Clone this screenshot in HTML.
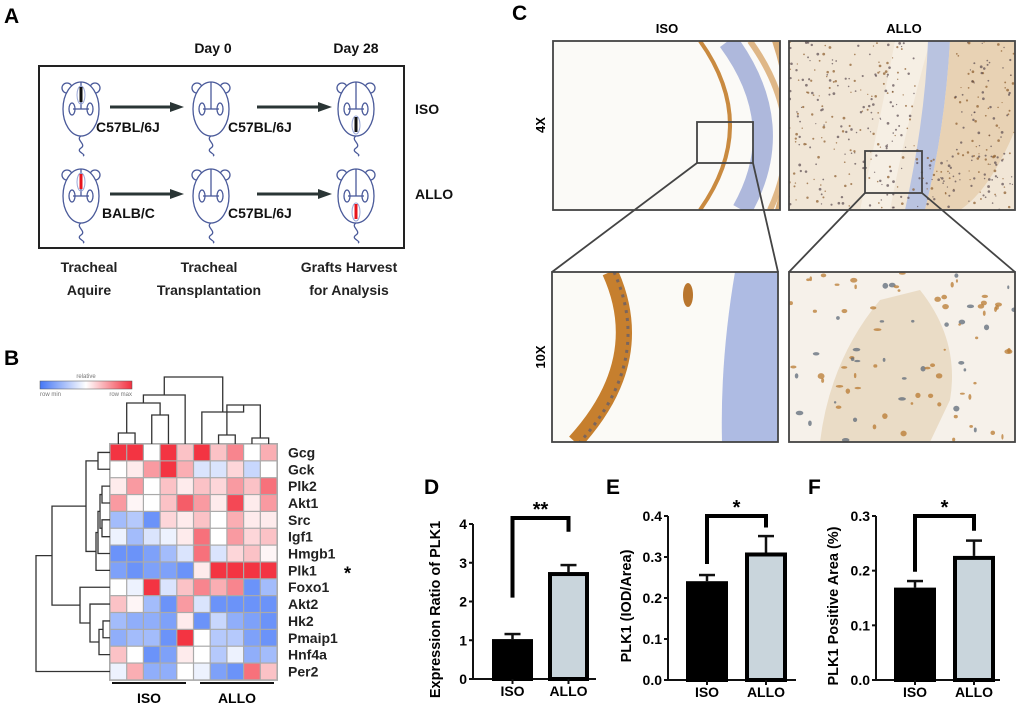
<!DOCTYPE html>
<html><head><meta charset="utf-8"><style>
html,body{margin:0;padding:0;background:#fff;}
svg{display:block;font-family:"Liberation Sans",Arial,sans-serif;}
.b{font-weight:bold;}
</style></head><body>
<svg id="fig" width="1020" height="708" viewBox="0 0 1020 708" xmlns="http://www.w3.org/2000/svg">
<defs>
<linearGradient id="leg" x1="0" x2="1" y1="0" y2="0"><stop offset="0" stop-color="#4677f5"/><stop offset="0.5" stop-color="#ffffff"/><stop offset="1" stop-color="#f2303f"/></linearGradient>
<clipPath id="c1"><rect x="553" y="41" width="227" height="169"/></clipPath>
<clipPath id="c2"><rect x="789" y="41" width="226" height="169"/></clipPath>
<clipPath id="c3"><rect x="552" y="272" width="226" height="170"/></clipPath>
<clipPath id="c4"><rect x="789" y="272" width="226" height="170"/></clipPath>
</defs>

<text x="4" y="23" font-size="21" class="b">A</text>
<text x="4" y="365" font-size="21" class="b">B</text>
<text x="512" y="20" font-size="21" class="b">C</text>
<text x="424" y="494" font-size="21" class="b">D</text>
<text x="606" y="494" font-size="21" class="b">E</text>
<text x="808" y="494" font-size="21" class="b">F</text>

<g id="panelA">
<text x="213" y="53" font-size="14" class="b" text-anchor="middle" fill="#111">Day 0</text>
<text x="356" y="53" font-size="14" class="b" text-anchor="middle" fill="#111">Day 28</text>
<rect x="39" y="66" width="365" height="182" fill="none" stroke="#222" stroke-width="2"/>
<text x="415" y="114" font-size="14" class="b" fill="#111">ISO</text>
<text x="415" y="199" font-size="14" class="b" fill="#111">ALLO</text>
<text x="96" y="132" font-size="14" class="b" fill="#111">C57BL/6J</text>
<text x="228" y="132" font-size="14" class="b" fill="#111">C57BL/6J</text>
<text x="102" y="218" font-size="14" class="b" fill="#111">BALB/C</text>
<text x="228" y="218" font-size="14" class="b" fill="#111">C57BL/6J</text>
<g font-size="14" class="b" text-anchor="middle" fill="#222">
<text x="89" y="272">Tracheal</text>
<text x="89" y="295">Aquire</text>
<text x="209" y="272">Tracheal</text>
<text x="209" y="295">Transplantation</text>
<text x="349" y="272">Grafts Harvest</text>
<text x="349" y="295">for Analysis</text>
</g>
</g>

<g id="panelB">
<text x="86" y="378" font-size="6" fill="#777" text-anchor="middle">relative</text>
<rect x="40" y="381" width="92" height="8" fill="url(#leg)" stroke="#555" stroke-width="0.5"/>
<text x="40" y="396" font-size="6" fill="#777">row min</text>
<text x="132" y="396" font-size="6" fill="#777" text-anchor="end">row max</text>
<g id="hm"></g>
</g>

<g id="panelC">
<text x="667" y="33" font-size="13" class="b" text-anchor="middle">ISO</text>
<text x="904" y="33" font-size="13" class="b" text-anchor="middle">ALLO</text>
<text transform="translate(545,125) rotate(-90)" font-size="13" class="b" text-anchor="middle">4X</text>
<text transform="translate(545,357) rotate(-90)" font-size="13" class="b" text-anchor="middle">10X</text>
<g clip-path="url(#c1)">
<rect x="553" y="41" width="227" height="169" fill="#fbfaf7"/>
<path d="M700,41 Q760,125 700,210" fill="none" stroke="#c98a40" stroke-width="4"/>
<path d="M728,41 Q790,125 742,210" fill="none" stroke="#aeb8dc" stroke-width="20"/>
<path d="M750,41 Q810,125 770,210" fill="none" stroke="#d8a66a" stroke-width="6" opacity="0.8"/>
<path d="M772,41 L780,41 L780,210 L775,210 Q800,125 772,41Z" fill="#c98a40" opacity="0.7"/>
</g>
<g clip-path="url(#c2)">
<rect x="789" y="41" width="226" height="169" fill="#f1e6d6"/>
<path d="M895,41 L930,41 Q905,130 890,210 L860,210 Q880,120 895,41Z" fill="#f6efe4"/>
<path d="M928,41 L950,41 Q945,130 925,210 L905,210 Q925,120 928,41Z" fill="#b9c3e0"/>
<path d="M950,41 L1015,41 L1015,130 Q990,190 960,210 L925,210 Q945,130 950,41Z" fill="#e8d2b4"/>
<g id="alloDots"></g>
</g>
<g clip-path="url(#c3)">
<rect x="552" y="272" width="226" height="170" fill="#fbfaf6"/>
<path d="M610,272 Q650,360 575,442" fill="none" stroke="#c67f2e" stroke-width="16"/>
<path d="M614,272 Q654,360 580,442" fill="none" stroke="#5b5a70" stroke-width="3" stroke-dasharray="3 5" opacity="0.7"/>
<ellipse cx="688" cy="295" rx="5" ry="12" fill="#b9762e"/>
<path d="M735,272 L778,272 L778,442 L722,442 Q720,360 735,272Z" fill="#aebbe3"/>
</g>
<g clip-path="url(#c4)">
<rect x="789" y="272" width="226" height="170" fill="#f6f1ea"/>
<path d="M820,442 Q830,360 880,300 L920,290 Q960,340 950,400 L930,442Z" fill="#eadcc6"/>
<g id="alloDots2"></g>
</g>
<g fill="none" stroke="#444" stroke-width="1.8">
<rect x="553" y="41" width="227" height="169"/>
<rect x="789" y="41" width="226" height="169"/>
<rect x="552" y="272" width="226" height="170"/>
<rect x="789" y="272" width="226" height="170"/>
<rect x="697" y="122" width="56" height="41"/>
<rect x="865" y="151" width="57" height="42"/>
<path d="M697,163 L552,272 M753,163 L778,272 M865,193 L789,272 M922,193 L1015,272"/>
</g>
</g>

<g id="bars"></g>
</svg>

<script>
const NS='http://www.w3.org/2000/svg';
function mk(parent,tag,attrs){const e=document.createElementNS(NS,tag);for(const k in attrs)e.setAttribute(k,attrs[k]);parent.appendChild(e);return e;}

/* ---------- Panel A mice ---------- */
const panelA=document.getElementById('panelA');
function mouse(cx,cy,graft,pos){
  const g=mk(panelA,'g',{});
  
  
  const st={fill:'none',stroke:'#4a5a9a','stroke-width':1.3};
  mk(g,'circle',Object.assign({cx:cx-14,cy:cy-21,r:5},st,{fill:'#fff'}));
  mk(g,'circle',Object.assign({cx:cx+14,cy:cy-21,r:5},st,{fill:'#fff'}));
  mk(g,'ellipse',Object.assign({cx:cx,cy:cy,rx:18,ry:27},st,{fill:'#fff'}));
  mk(g,'path',Object.assign({d:`M${cx},${cy+27} c-6,4 6,8 0,12 c-6,4 6,6 2,8`},st));
  mk(g,'line',Object.assign({x1:cx,y1:cy-27,x2:cx,y2:cy},st));
  mk(g,'line',Object.assign({x1:cx-8,y1:cy,x2:cx+8,y2:cy},st));
  mk(g,'ellipse',Object.assign({cx:cx-9,cy:cy,rx:3,ry:6},st));
  mk(g,'ellipse',Object.assign({cx:cx+9,cy:cy,rx:3,ry:6},st));
  if(graft){
    const y1=pos==='top'?cy-22:cy+8;
    mk(g,'ellipse',{cx:cx,cy:y1+8,rx:4,ry:9,fill:'none',stroke:'#9aa8d8','stroke-width':1});
    mk(g,'line',{x1:cx,y1:y1,x2:cx,y2:y1+15,stroke:graft,'stroke-width':3});
  }
}
const mouseX=[81,211,356], mouseY=[109,196];
mouse(mouseX[0],mouseY[0],'#111','top');mouse(mouseX[1],mouseY[0],null);mouse(mouseX[2],mouseY[0],'#111','bot');
mouse(mouseX[0],mouseY[1],'#e8141c','top');mouse(mouseX[1],mouseY[1],null);mouse(mouseX[2],mouseY[1],'#e8141c','bot');
[[110,184],[257,332]].forEach(([a,b])=>mouseY.forEach(yy=>{
  const y2=yy-2;
  const l=mk(panelA,'line',{x1:a,y1:y2,x2:b-10,y2:y2,stroke:'#2a3535','stroke-width':3});
  
  
  mk(panelA,'path',{d:`M${b-14},${y2-5} L${b},${y2} L${b-14},${y2+5}Z`,fill:'#2a3535'});
}));

/* ---------- Panel B heatmap ---------- */
const genes=['Gcg','Gck','Plk2','Akt1','Src','Igf1','Hmgb1','Plk1','Foxo1','Akt2','Hk2','Pmaip1','Hnf4a','Per2'];
const samples=['ISO1','ISO2','ISO3','ISO4','ISO5','ALLO1','ALLO2','ALLO3','ALLO4','ALLO5'];
const hmValues=[
[1,1,0,1,0.3,1,0.3,0.6,0,0.4],
[0,0.1,0.5,1,0.4,-0.2,-0.2,0.2,-0.3,0],
[0.1,0.5,0,0.3,0.1,0.3,0.2,0.5,0.3,0.7],
[0.5,0.05,0,0.3,0.8,0.5,0.1,0.9,0.1,0.5],
[-0.5,-0.4,-0.8,0.2,0.1,0.3,0,0.4,0.1,0.1],
[-0.1,-0.5,-0.2,-0.1,0.1,0.7,0,0.5,0.2,0.3],
[-0.8,-0.8,-0.7,-0.5,-0.2,0.7,-0.2,0.2,0.3,0.05],
[-0.7,-0.8,-0.7,-0.7,-0.8,0.1,1,1,1,1],
[0,-0.1,1,-0.2,0.3,0.6,0.4,0.6,-0.8,-0.5],
[0.3,0.05,-0.5,-0.8,0.5,-0.2,-0.8,-0.8,-0.8,-0.8],
[-0.5,-0.6,-0.6,-0.7,0.1,-0.8,-0.3,-0.6,-0.7,-0.8],
[-0.6,-0.5,-0.5,-0.8,1,0,-0.4,-0.4,-0.7,-0.8],
[0.3,0,-0.8,-0.7,0.1,0,-0.4,-0.1,-0.6,-0.5],
[-0.1,0.4,-0.6,-0.6,0,-0.1,-0.7,-0.8,0.7,0.3]];
const hmX0=110,hmY0=444,cw=16.7,ch=16.85;
function colX(i){return hmX0+cw*i;}
function rowY(j){return hmY0+ch*j;}
function heatColor(v){const w=[255,255,255];const t=Math.min(1,Math.abs(v));const c=v<0?[70,120,247]:[243,52,66];
 return 'rgb('+w.map((x,k)=>Math.round(x+(c[k]-x)*t)).join(',')+')';}
const hm=document.getElementById('hm');
mk(hm,'rect',{x:hmX0-1,y:hmY0-1,width:cw*10+2,height:ch*14+2,fill:'#aaa'});
hmValues.forEach((row,j)=>row.forEach((v,i)=>{
  const r=mk(hm,'rect',{x:colX(i)+0.6,y:rowY(j)+0.6,width:cw-1.2,height:ch-1.2,fill:heatColor(v)});
  
  
}));
genes.forEach((g,j)=>{
  const t=mk(hm,'text',{x:288,y:rowY(j)+ch/2+5,'font-size':14,'font-weight':'bold',fill:'#222'});
  t.textContent=g;
  
  
});
const starEl=mk(hm,'text',{x:344,y:rowY(7)+ch/2+9,'font-size':18,'font-weight':'bold'});starEl.textContent='*';


const ccx=i=>colX(i)+cw/2, rry=j=>rowY(j)+ch/2;
const ds={fill:'none',stroke:'#333','stroke-width':1.3};
function tj(x1,x2,yb1,yb2,yt){mk(hm,'path',Object.assign({d:`M${x1},${yb1}V${yt}H${x2}V${yb2}`},ds));}
function lj(y1,y2,xb1,xb2,xt){mk(hm,'path',Object.assign({d:`M${xb1},${y1}H${xt}V${y2}H${xb2}`},ds));}
const topY=hmY0;
tj(ccx(0),ccx(1),topY,topY,433);
tj(ccx(2),ccx(3),topY,topY,415);
tj((ccx(0)+ccx(1))/2,(ccx(2)+ccx(3))/2,433,415,403);
const l1=((ccx(0)+ccx(1))/2+(ccx(2)+ccx(3))/2)/2;
tj(l1,ccx(4),403,topY,395);
tj(ccx(6),ccx(7),topY,topY,435);
tj(ccx(8),ccx(9),topY,topY,438);
const r1=(ccx(6)+ccx(7))/2,r2=(ccx(8)+ccx(9))/2;
tj(r1,r2,435,438,405);
tj(ccx(5),(r1+r2)/2,topY,405,412);
const lmid=(l1+ccx(4))/2,rmid=(ccx(5)+(r1+r2)/2)/2;
tj(lmid,rmid,395,412,377);
const lf=hmX0;
lj(rry(0),rry(1),lf,lf,98);
lj(rry(2),rry(3),lf,lf,102);
lj(rry(4),rry(5),lf,lf,102);
lj((rry(2)+rry(3))/2,(rry(4)+rry(5))/2,102,102,100);
const m1=((rry(2)+rry(3))/2+(rry(4)+rry(5))/2)/2;
lj(m1,rry(6),100,lf,98);
const m2=(m1+rry(6))/2;
lj(m2,rry(7),98,lf,96);
const m3=(m2+rry(7))/2, m0=(rry(0)+rry(1))/2;
lj(m0,m3,98,96,86);
lj(rry(10),rry(11),lf,lf,103);
const n1=(rry(10)+rry(11))/2;
lj(n1,rry(12),103,lf,99);
const n2=(n1+rry(12))/2;
lj(rry(9),n2,lf,99,90);
const n3=(rry(9)+n2)/2;
lj(rry(8),n3,lf,90,80);
const n4=(rry(8)+n3)/2, m4=(m0+m3)/2;
lj(m4,n4,86,80,52);
lj((m4+n4)/2,rry(13),52,lf,36);
mk(hm,'line',{x1:112,y1:683,x2:186,y2:683,stroke:'#111','stroke-width':2});
mk(hm,'line',{x1:200,y1:683,x2:274,y2:683,stroke:'#111','stroke-width':2});
const gi=mk(hm,'text',{x:149,y:703,'font-size':14,'font-weight':'bold','text-anchor':'middle'});gi.textContent='ISO';


const ga=mk(hm,'text',{x:237,y:703,'font-size':14,'font-weight':'bold','text-anchor':'middle'});ga.textContent='ALLO';



let seed=7;function rnd(){seed=(seed*16807)%2147483647;return seed/2147483647;}
const ad=document.getElementById('alloDots');
for(let k=0;k<500;k++){const x=789+rnd()*226,y=41+rnd()*169;if(x>915&&x<955&&y<150)continue;
 mk(ad,'circle',{cx:x,cy:y,r:0.6+rnd()*0.8,fill:rnd()<0.5?'#8a5a2a':'#5a4a50',opacity:0.7});}
const ad2=document.getElementById('alloDots2');
for(let k=0;k<90;k++){const x=789+rnd()*226,y=272+rnd()*170;
 mk(ad2,'ellipse',{cx:x,cy:y,rx:1+rnd()*3,ry:1+rnd()*2,fill:rnd()<0.6?'#b87a30':'#5d6a78',opacity:0.75});}

/* ---------- Bar charts D,E,F ---------- */
const groups=['ISO','ALLO'];
const dMeans=[1.03,2.76], dErr=[0.13,0.18], dTicks=[0,1,2,3,4], dTickLabels=['0','1','2','3','4'];
const eMeans=[0.241,0.311], eErr=[0.015,0.04], eTicks=[0,0.1,0.2,0.3,0.4], eTickLabels=['0.0','0.1','0.2','0.3','0.4'];
const fMeans=[0.169,0.227], fErr=[0.012,0.028], fTicks=[0,0.1,0.2,0.3], fTickLabels=['0.0','0.1','0.2','0.3'];
const barsG=document.getElementById('bars');
function barChart(o){
  const g=mk(barsG,'g',{});
  
  
  const ymax=o.ticks[o.ticks.length-1];
  const yS=v=>o.y0-(o.y0-o.ytop)*v/ymax;
  const xs=o.barX;
  const ax=mk(g,'path',{d:`M${o.ax},${yS(ymax)}V${o.y0}H${o.axEnd}`,fill:'none',stroke:'#111','stroke-width':2});
  
  
  o.ticks.forEach((t,k)=>{
    mk(g,'line',{x1:o.ax-4,x2:o.ax,y1:yS(t),y2:yS(t),stroke:'#111','stroke-width':2});
    const tl=mk(g,'text',{x:o.ax-6,y:yS(t)+5,'font-size':14,'font-weight':'bold','text-anchor':'end'});
    tl.textContent=o.tickLabels[k];
    
    
  });
  o.means.forEach((m,i)=>{
    const x=xs[i],w=o.bw,barTop=yS(m);
    mk(g,'line',{x1:x+w/2,x2:x+w/2,y1:barTop,y2:yS(m+o.err[i]),stroke:'#111','stroke-width':2.5});
    mk(g,'line',{x1:x+w/2-8,x2:x+w/2+8,y1:yS(m+o.err[i]),y2:yS(m+o.err[i]),stroke:'#111','stroke-width':2.5});
    const r=mk(g,'rect',{x:x+2,y:barTop+2,width:w-4,height:o.y0-barTop-2,fill:i===0?'#000':'#c9d5dc',stroke:'#000','stroke-width':4});
    
    
    mk(g,'line',{x1:x+w/2,x2:x+w/2,y1:o.y0,y2:o.y0+5,stroke:'#111','stroke-width':2});
    const xl=mk(g,'text',{x:x+w/2,y:o.y0+17,'font-size':14,'font-weight':'bold','text-anchor':'middle'});
    xl.textContent=groups[i];
    
    
  });
  const bl=xs[0]+o.bw/2, br=xs[1]+o.bw/2;
  const br1=mk(g,'path',{d:`M${bl},${yS(o.brL)}V${o.brTop}H${br}V${yS(o.brR)}`,fill:'none',stroke:'#000','stroke-width':4});
  
  
  const s=mk(g,'text',{x:(bl+br)/2,y:o.brTop-2,'font-size':20,'font-weight':'bold','text-anchor':'middle'});
  s.textContent=o.star;
  
  
  const yl=mk(g,'text',{transform:`translate(${o.ylx},${(o.y0+o.ytop)/2+8}) rotate(-90)`,'font-size':14.5,'font-weight':'bold','text-anchor':'middle'});
  yl.textContent=o.ylabel;
  
  
}
barChart({name:'chart-d',means:dMeans,err:dErr,ticks:dTicks,tickLabels:dTickLabels,ax:473,axEnd:596,y0:679,ytop:524,barX:[492,548],bw:41,brL:2.1,brR:3.8,brTop:518,star:'**',ylx:440,ylabel:'Expression Ratio of PLK1'});
barChart({name:'chart-e',means:eMeans,err:eErr,ticks:eTicks,tickLabels:eTickLabels,ax:668,axEnd:796,y0:680,ytop:516,barX:[686,745],bw:42,brL:0.283,brR:0.372,brTop:516,star:'*',ylx:631,ylabel:'PLK1 (IOD/Area)'});
barChart({name:'chart-f',means:fMeans,err:fErr,ticks:fTicks,tickLabels:fTickLabels,ax:876,axEnd:1000,y0:680,ytop:516,barX:[894,953],bw:42,brL:0.198,brR:0.273,brTop:516,star:'*',ylx:838,ylabel:'PLK1 Positive Area (%)'});
</script>
</body></html>
